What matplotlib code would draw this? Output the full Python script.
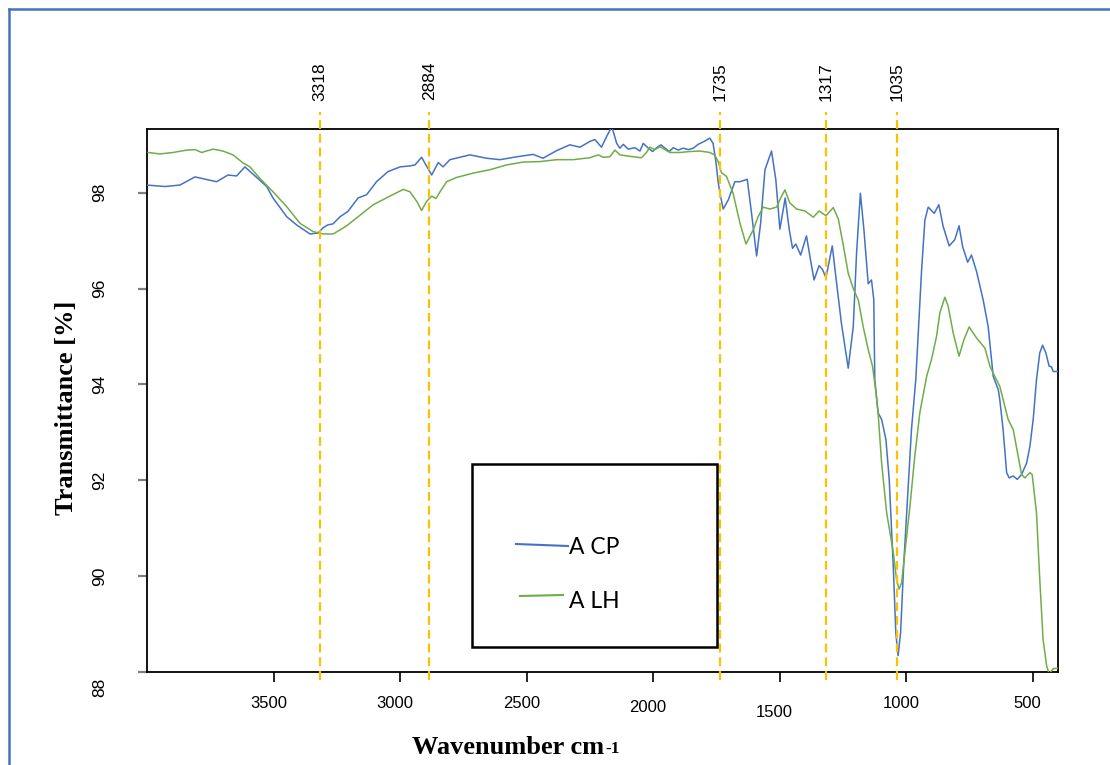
import matplotlib
matplotlib.use("Agg")
import matplotlib.pyplot as plt
from matplotlib.lines import Line2D
from matplotlib.patches import Rectangle
from matplotlib.transforms import ScaledTranslation

# ---------------- data ----------------
series_names = ["A CP", "A LH"]

wn_cp = [4000, 3929, 3870, 3810, 3725, 3680, 3646, 3613, 3573, 3527, 3502, 3448,
         3409, 3356, 3324, 3304, 3285, 3265, 3237, 3206, 3166, 3132, 3093, 3048,
         3000, 2961, 2941, 2915, 2875, 2849, 2830, 2803, 2724, 2658, 2605, 2539,
         2474, 2435, 2381, 2329, 2289, 2250, 2230, 2204, 2184, 2163, 2144, 2131,
         2118, 2098, 2072, 2052, 2039, 2019, 2002, 1986, 1969, 1953, 1936, 1920,
         1901, 1881, 1861, 1841, 1822, 1795, 1776, 1763, 1752, 1743, 1736, 1723,
         1703, 1677, 1657, 1628, 1611, 1591, 1575, 1558, 1532, 1515, 1499, 1478,
         1462, 1449, 1436, 1417, 1394, 1378, 1364, 1344, 1331, 1317, 1292, 1275,
         1256, 1229, 1209, 1196, 1181, 1167, 1150, 1137, 1128, 1124, 1111, 1097,
         1080, 1067, 1051, 1041, 1032, 1022, 1010, 998, 979, 962, 939, 926,
         913, 889, 871, 854, 830, 808, 791, 777, 757, 742, 722, 696,
         676, 656, 636, 630, 617, 603, 593, 577, 561, 544, 524, 511,
         498, 485, 472, 461, 448, 435, 426, 419, 397]
t_cp = [98.16, 98.13, 98.16, 98.33, 98.23, 98.37, 98.35, 98.54, 98.35, 98.13, 97.89, 97.50,
        97.33, 97.14, 97.16, 97.27, 97.33, 97.35, 97.50, 97.61, 97.89, 97.96, 98.23, 98.44,
        98.54, 98.56, 98.58, 98.74, 98.37, 98.63, 98.54, 98.69, 98.79, 98.72, 98.69, 98.75,
        98.80, 98.72, 98.88, 99.00, 98.95, 99.07, 99.11, 98.95, 99.17, 99.38, 99.03, 98.93,
        99.01, 98.91, 98.94, 98.87, 99.03, 98.93, 98.86, 98.94, 99.00, 98.93, 98.86, 98.94,
        98.89, 98.93, 98.90, 98.93, 99.01, 99.08, 99.14, 99.03, 98.65, 98.23, 97.99, 97.66,
        97.85, 98.23, 98.23, 98.28, 97.57, 96.68, 97.37, 98.48, 98.87, 98.27, 97.24, 97.89,
        97.23, 96.84, 96.93, 96.70, 97.10, 96.60, 96.18, 96.48, 96.40, 96.23, 96.89, 96.12,
        95.28, 94.34, 95.21, 96.74, 97.99, 97.23, 96.10, 96.18, 95.77, 94.10, 93.41, 93.27,
        92.85, 92.02, 90.21, 88.82, 88.34, 88.82, 90.21, 91.32, 93.06, 94.10, 96.39, 97.43,
        97.70, 97.57, 97.75, 97.30, 96.89, 97.02, 97.31, 96.88, 96.55, 96.70, 96.36, 95.77,
        95.21, 94.17, 93.89, 93.68, 93.06, 92.16, 92.05, 92.09, 92.02, 92.12, 92.36, 92.71,
        93.27, 94.10, 94.66, 94.82, 94.66, 94.38, 94.37, 94.27, 94.27]

wn_lh = [3996, 3949, 3897, 3843, 3810, 3784, 3739, 3700, 3660, 3620, 3593, 3554,
         3502, 3448, 3395, 3344, 3303, 3264, 3211, 3106, 3040, 2987, 2961, 2934,
         2915, 2895, 2875, 2858, 2842, 2816, 2776, 2711, 2645, 2579, 2514, 2447,
         2381, 2316, 2250, 2217, 2197, 2171, 2151, 2131, 2092, 2046, 2026, 2013,
         1993, 1973, 1953, 1934, 1894, 1855, 1815, 1776, 1757, 1743, 1730, 1710,
         1684, 1657, 1633, 1604, 1585, 1565, 1539, 1512, 1496, 1479, 1460, 1433,
         1400, 1367, 1344, 1317, 1288, 1268, 1249, 1229, 1209, 1189, 1170, 1150,
         1133, 1119, 1111, 1097, 1077, 1051, 1038, 1028, 1018, 1005, 985, 966,
         946, 919, 900, 880, 867, 847, 834, 814, 791, 772, 751, 722,
         689, 669, 650, 630, 597, 577, 544, 531, 511, 502, 485, 472,
         459, 445, 435, 419, 399]
t_lh = [98.84, 98.81, 98.84, 98.89, 98.90, 98.84, 98.91, 98.87, 98.79, 98.62, 98.54, 98.30,
        98.02, 97.71, 97.36, 97.19, 97.14, 97.14, 97.31, 97.75, 97.93, 98.07, 98.02, 97.82,
        97.63, 97.82, 97.93, 97.88, 98.02, 98.23, 98.32, 98.41, 98.48, 98.58, 98.64, 98.65,
        98.69, 98.69, 98.73, 98.79, 98.74, 98.75, 98.89, 98.79, 98.76, 98.73, 98.84, 98.95,
        98.90, 98.96, 98.90, 98.84, 98.84, 98.86, 98.87, 98.84, 98.79, 98.65, 98.42, 98.34,
        97.99, 97.37, 96.93, 97.23, 97.50, 97.70, 97.66, 97.70, 97.89, 98.06, 97.79, 97.66,
        97.62, 97.49, 97.62, 97.52, 97.69, 97.45, 96.92, 96.32, 96.00, 95.76, 95.21, 94.73,
        94.38, 93.82, 93.41, 92.36, 91.32, 90.50, 89.93, 89.73, 89.86, 90.50, 91.46, 92.50,
        93.41, 94.17, 94.52, 95.00, 95.49, 95.82, 95.63, 95.07, 94.59, 94.93, 95.20, 94.97,
        94.76, 94.38, 94.17, 93.96, 93.27, 93.06, 92.12, 92.05, 92.16, 92.12, 91.32, 89.93,
        88.68, 88.13, 87.96, 88.07, 88.08]

peak_wn = [3318, 2884, 1735, 1317, 1035]
x_ticks = [3500, 3000, 2500, 2000, 1500, 1000, 500]
y_ticks = [88, 90, 92, 94, 96, 98]

# ---------------- styling ----------------
C_CP = "#4472C4"
C_LH = "#70AD47"
C_PEAK = "#FFC000"
W, H = 1110, 765
DPI = 100


def fx(px):
    return px / W


def fy(py):
    return 1 - py / H


fig = plt.figure(figsize=(W / DPI, H / DPI), dpi=DPI)
fig.patch.set_facecolor("white")

ax = fig.add_axes([fx(147), fy(672), fx(1058) - fx(147), fy(129) - fy(672)])
ax.set_xlim(4000, 400)
ax.set_ylim(88, 99.33)

ax.plot(wn_cp, t_cp, color=C_CP, lw=1.1, zorder=3)
ax.plot(wn_lh, t_lh, color=C_LH, lw=1.1, zorder=3)

# peak markers: dashed lines running a little past the frame, with rotated labels
xform = ax.get_xaxis_transform()
for w in peak_wn:
    ax.axvline(w, ymin=-0.015, ymax=1.031, color=C_PEAK, lw=1.6,
               dashes=(4, 2.2), clip_on=False, zorder=4)
    ax.text(w, 1.088, str(w), transform=xform, rotation=90, ha="center",
            va="center", fontsize=12.5, family=["Liberation Sans", "DejaVu Sans"])

for s in ax.spines.values():
    s.set_linewidth(1.3)
    s.set_color("black")

ax.set_xticks(x_ticks)
ax.set_xticklabels([str(v) for v in x_ticks],
                   fontsize=12, family=["Liberation Sans", "DejaVu Sans"])
ax.set_yticks(y_ticks)
ax.set_yticklabels([str(v) for v in y_ticks], rotation=90, va="center",
                   fontsize=12.5, family=["Liberation Sans", "DejaVu Sans"])
ax.tick_params(axis="x", direction="out", length=7.5, width=1.2, color="black", pad=10)
ax.tick_params(axis="y", direction="out", length=6.5, width=1.6, color="#7f7f7f", pad=22)

# a few tick labels sit lower than the rest
x_drop = {"1500": -9, "2000": -4}
for lab in ax.get_xticklabels():
    dy = x_drop.get(lab.get_text(), 0)
    lab.set_transform(lab.get_transform() +
                      ScaledTranslation(-5 / DPI, dy / DPI, fig.dpi_scale_trans))
for lab in ax.get_yticklabels():
    if lab.get_text() == "88":
        lab.set_transform(lab.get_transform() +
                          ScaledTranslation(0, -15 / DPI, fig.dpi_scale_trans))

# axis titles
serif_bold = dict(family=["Liberation Serif", "DejaVu Serif"], fontweight="bold", fontsize=19)
fig.text(fx(66), fy(408), "Transmittance [%]", rotation=90, ha="center", va="center",
         **serif_bold)
xl = fig.text(fx(604), fy(748), "Wavenumber cm", ha="right", va="center", **serif_bold)
ax.annotate("-1", xy=(1, 1), xycoords=xl, xytext=(1, -3), textcoords="offset points",
            ha="left", va="top", family=["Liberation Serif", "DejaVu Serif"],
            fontweight="bold", fontsize=12.5)

# legend box
fig.add_artist(Rectangle((fx(472), fy(647)), fx(717) - fx(472), fy(464) - fy(647),
                         transform=fig.transFigure, fill=False, lw=1.8, ec="black"))
fig.add_artist(Line2D([fx(516), fx(568)], [fy(544), fy(546)], color=C_CP, lw=1.5,
                      transform=fig.transFigure))
fig.add_artist(Line2D([fx(520), fx(563)], [fy(596), fy(595)], color=C_LH, lw=1.5,
                      transform=fig.transFigure))
leg_font = dict(family=["Lato", "DejaVu Sans"], fontsize=16.5)
fig.text(fx(569), fy(547), series_names[0], ha="left", va="center", **leg_font)
fig.text(fx(569), fy(601), series_names[1], ha="left", va="center", **leg_font)

# outer frame
fig.add_artist(Line2D([fx(9), fx(9)], [0, fy(9)], color=C_CP, lw=1.8,
                      transform=fig.transFigure))
fig.add_artist(Line2D([fx(9), 1], [fy(9), fy(9)], color=C_CP, lw=1.8,
                      transform=fig.transFigure))

fig.savefig("out.png", dpi=DPI)
